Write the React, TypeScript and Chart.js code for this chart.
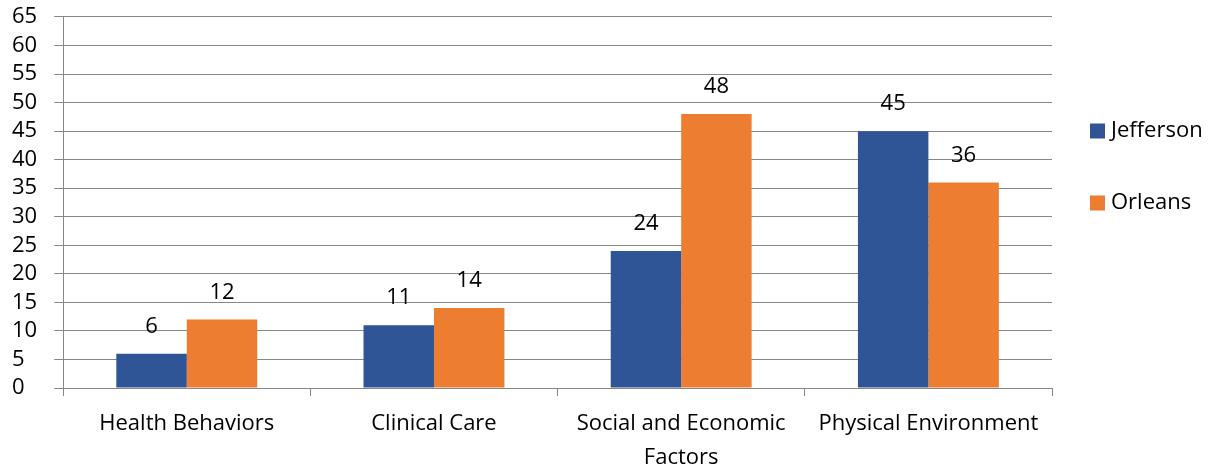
import React, { useEffect, useRef } from "react";
import { Chart, registerables } from "chart.js";

Chart.register(...registerables);

const categories: (string | string[])[] = [
  "Health Behaviors",
  "Clinical Care",
  ["Social and Economic", "Factors"],
  "Physical Environment",
];
const jefferson = [6, 11, 24, 45];
const orleans = [12, 14, 48, 36];
const seriesNames = ["Jefferson", "Orleans"];
const colors = ["#2F5597", "#ED7D31"];

const FONT = "'Open Sans', sans-serif";
const FS = 22;

const labelPlugin = {
  id: "valueLabels",
  afterDatasetsDraw(chart: any) {
    const ctx = chart.ctx;
    ctx.save();
    ctx.font = `${FS}px ${FONT}`;
    ctx.fillStyle = "#000";
    ctx.textAlign = "center";
    ctx.textBaseline = "middle";
    chart.data.datasets.forEach((ds: any, i: number) => {
      const meta = chart.getDatasetMeta(i);
      meta.data.forEach((bar: any, j: number) => {
        ctx.fillText(String(ds.data[j]), bar.x, bar.y - 27);
      });
    });
    ctx.restore();
  },
};

const legendPlugin = {
  id: "customLegend",
  afterDraw(chart: any) {
    const ctx = chart.ctx;
    ctx.save();
    ctx.font = `${FS}px ${FONT}`;
    ctx.textBaseline = "middle";
    ctx.textAlign = "left";
    const ys = [131, 203];
    chart.data.datasets.forEach((ds: any, i: number) => {
      const y = ys[i];
      ctx.fillStyle = ds.backgroundColor;
      ctx.fillRect(1090, y - 7.5, 15, 15);
      ctx.fillStyle = "#000";
      ctx.fillText(ds.label, 1111, y);
    });
    ctx.restore();
  },
};

export default function App() {
  const ref = useRef<HTMLCanvasElement>(null);
  useEffect(() => {
    document.body.style.margin = "0";
    const chart = new Chart(ref.current!, {
      type: "bar",
      data: {
        labels: categories,
        datasets: [
          { label: seriesNames[0], data: jefferson, backgroundColor: colors[0] },
          { label: seriesNames[1], data: orleans, backgroundColor: colors[1] },
        ],
      },
      options: {
        animation: false,
        responsive: false,
        maintainAspectRatio: false,
        layout: { padding: { top: 1, right: 169, left: 12, bottom: -14 } },
        datasets: {
          bar: { categoryPercentage: 0.57, barPercentage: 1 },
        },
        plugins: {
          legend: { display: false },
          tooltip: { enabled: false },
        },
        scales: {
          x: {
            grid: {
              offset: true,
              drawOnChartArea: false,
              drawTicks: true,
              tickLength: 8,
              color: "#878787",
            },
            border: { color: "#878787", width: 1 },
            ticks: {
              color: "#000",
              font: { family: FONT, size: FS, lineHeight: 34 / 22 },
              padding: 11,
              maxRotation: 0,
              autoSkip: false,
            },
          },
          y: {
            min: 0,
            max: 65,
            grid: { color: "#878787", tickLength: 9 },
            border: { color: "#878787", width: 1 },
            ticks: {
              stepSize: 5,
              color: "#000",
              font: { family: FONT, size: FS, lineHeight: 0.77 },
              padding: 8.5,
              crossAlign: "far",
              autoSkip: false,
            },
          },
        },
      },
      plugins: [labelPlugin, legendPlugin],
    });
    return () => chart.destroy();
  }, []);
  return <canvas ref={ref} width={1221} height={472} style={{ display: "block" }} />;
}
